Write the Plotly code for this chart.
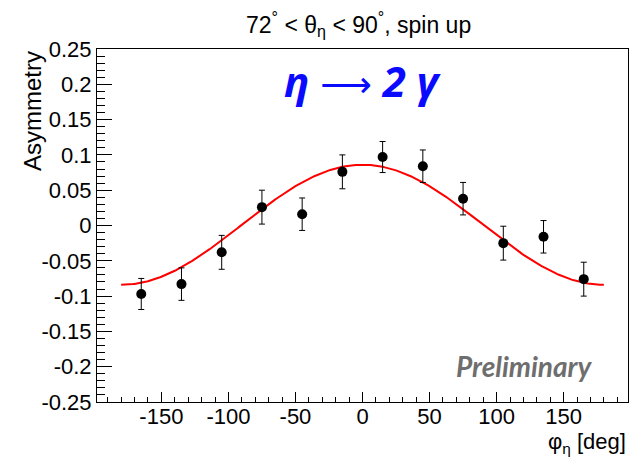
import numpy as np
import plotly.graph_objects as go

# ---- data ----
phi = [-165, -135, -105, -75, -45, -15, 15, 45, 75, 105, 135, 165]
asym = [-0.097, -0.083, -0.038, 0.026, 0.016, 0.076, 0.097, 0.084, 0.038, -0.025, -0.016, -0.076]
err = [0.022, 0.023, 0.024, 0.024, 0.023, 0.024, 0.022, 0.023, 0.023, 0.024, 0.023, 0.024]

# fit: p0 + p1*cos(phi)
fit_p0 = 0.001
fit_p1 = 0.085
fit_range = (-180, 180)

xtick_vals = [-150, -100, -50, 0, 50, 100, 150]
xtick_text = ["-150", "-100", "-50", "0", "50", "100", "150"]
ytick_vals = [0.25, 0.2, 0.15, 0.1, 0.05, 0, -0.05, -0.1, -0.15, -0.2, -0.25]
ytick_text = ["0.25", "0.2", "0.15", "0.1", "0.05", "0", "-0.05", "-0.1", "-0.15", "-0.2", "-0.25"]

FONT = "Liberation Sans, Arial, sans-serif"

fx = np.linspace(fit_range[0], fit_range[1], 361)
fy = fit_p0 + fit_p1 * np.cos(np.radians(fx))

fig = go.Figure()
fig.add_trace(go.Scatter(x=fx, y=fy, mode="lines",
                         line=dict(color="#ff0000", width=2), hoverinfo="skip"))
fig.add_trace(go.Scatter(x=phi, y=asym, mode="markers",
                         marker=dict(color="black", size=10),
                         error_y=dict(type="data", array=err, color="black",
                                      thickness=1, width=3)))

axis_common = dict(showline=True, linecolor="black", linewidth=1, mirror=True,
                   showgrid=False, zeroline=False, ticks="inside",
                   tickcolor="black", tickfont=dict(family=FONT, size=22, color="black"))

fig.update_layout(
    width=633, height=462,
    margin=dict(l=97, r=5, t=49, b=60),
    paper_bgcolor="white", plot_bgcolor="white",
    showlegend=False,
    xaxis=dict(range=[-198, 198], tickmode="array", tickvals=xtick_vals, ticktext=xtick_text,
               ticklen=10, ticklabelstandoff=-5,
               minor=dict(tickmode="linear", tick0=0, dtick=10, ticklen=5,
                          ticks="inside", tickcolor="black"),
               **axis_common),
    yaxis=dict(range=[-0.25, 0.25], tickmode="array", tickvals=ytick_vals, ticktext=ytick_text,
               ticklen=15,
               minor=dict(tickmode="linear", tick0=0, dtick=0.01, ticklen=8,
                          ticks="inside", tickcolor="black"),
               **axis_common),
)

fig.add_annotation(text="72<sup>°</sup> < θ<sub>η</sub> < 90<sup>°</sup>, spin up",
                   xref="paper", yref="paper", x=(358 - 97) / 531, y=(402 - 24) / 353,
                   xanchor="center", yanchor="middle", showarrow=False,
                   font=dict(family=FONT, size=23, color="black"))
fig.add_annotation(text="Asymmetry", textangle=-90,
                   xref="paper", yref="paper", x=(32 - 97) / 531, y=1.0,
                   xanchor="center", yanchor="top", showarrow=False,
                   font=dict(family=FONT, size=24, color="black"))
fig.add_annotation(text="φ<sub>η</sub> [deg]",
                   xref="paper", yref="paper", x=1.0, y=(402 - 443) / 353,
                   xanchor="right", yanchor="middle", showarrow=False,
                   font=dict(family=FONT, size=22, color="black"))
fig.add_annotation(text="<b><i>η</i></b> <span style='font-family:DejaVu Sans;font-size:36px'>⟶</span> <b><i>2 γ</i></b>",
                   xref="paper", yref="paper", x=(362 - 97) / 531, y=(402 - 80) / 353,
                   xanchor="center", yanchor="middle", showarrow=False,
                   font=dict(family="Open Sans", size=42, color="#0a0aff"))
fig.add_annotation(text="<b><i>Preliminary</i></b>",
                   xref="paper", yref="paper", x=(524.5 - 97) / 531, y=(402 - 366) / 353,
                   xanchor="center", yanchor="middle", showarrow=False,
                   font=dict(family="Lato", size=28, color="#6e6e6e"))

fig.write_html("out.html")
